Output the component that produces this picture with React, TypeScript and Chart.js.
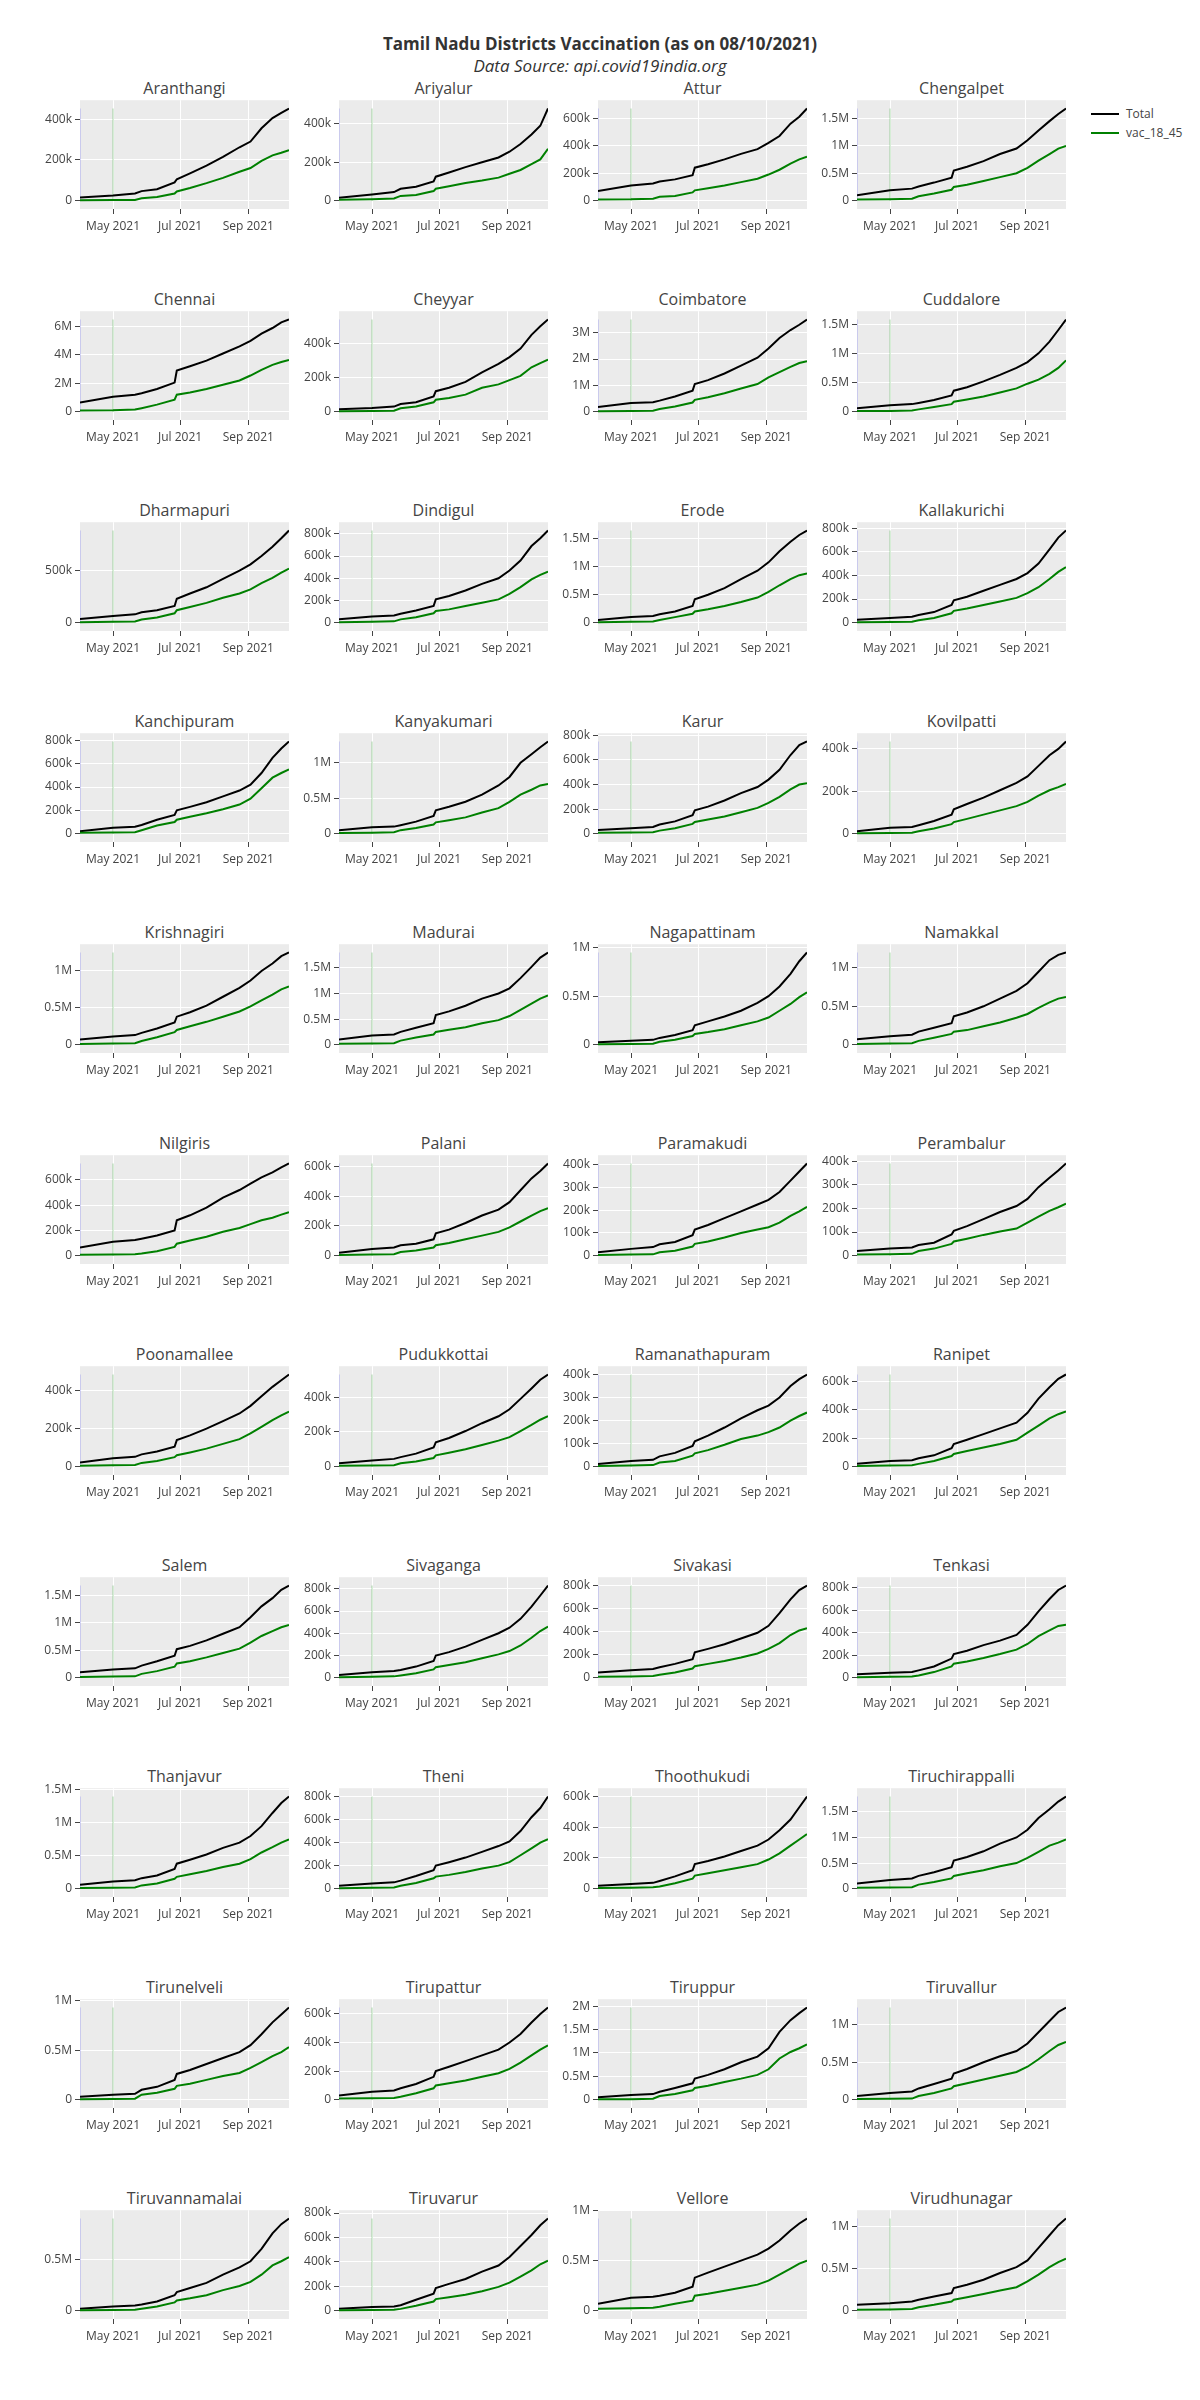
import React, { useEffect, useRef } from 'react';
import { Chart, registerables } from 'chart.js';

Chart.register(...registerables);

// ---------------- data ----------------
const mainTitle = 'Tamil Nadu Districts Vaccination (as on 08/10/2021)';
const subTitle = 'Data Source: api.covid19india.org';

const seriesNames = ['Total', 'vac_18_45'];
const seriesColors = ['black', 'green'];

const districts = [
  'Aranthangi', 'Ariyalur', 'Attur', 'Chengalpet',
  'Chennai', 'Cheyyar', 'Coimbatore', 'Cuddalore',
  'Dharmapuri', 'Dindigul', 'Erode', 'Kallakurichi',
  'Kanchipuram', 'Kanyakumari', 'Karur', 'Kovilpatti',
  'Krishnagiri', 'Madurai', 'Nagapattinam', 'Namakkal',
  'Nilgiris', 'Palani', 'Paramakudi', 'Perambalur',
  'Poonamallee', 'Pudukkottai', 'Ramanathapuram', 'Ranipet',
  'Salem', 'Sivaganga', 'Sivakasi', 'Tenkasi',
  'Thanjavur', 'Theni', 'Thoothukudi', 'Tiruchirappalli',
  'Tirunelveli', 'Tirupattur', 'Tiruppur', 'Tiruvallur',
  'Tiruvannamalai', 'Tiruvarur', 'Vellore', 'Virudhunagar',
];

// days since 2021-04-01
const days = [0, 30, 50, 56, 70, 86, 88, 100, 115, 130, 145, 155, 165, 175, 183, 190];
const xMin = 0;
const xMax = 190;
const xTickDays = [30, 91, 153];
const xTickLabels = ['May 2021', 'Jul 2021', 'Sep 2021'];
// vertical marker lines: 2021-04-01 and 2021-05-01
const markerDays = [0, 30];
const markerColors = ['rgba(110,110,240,0.35)', 'rgba(0,140,0,0.16)'];

// cumulative doses, thousands
const totalK = [
  [16, 25, 35, 47, 56, 90, 105, 134, 172, 215, 262, 290, 355, 405, 430, 452],
  [15, 32, 45, 62, 73, 100, 125, 147, 175, 200, 225, 255, 295, 345, 390, 480],
  [70, 110, 125, 140, 155, 185, 240, 265, 300, 340, 375, 420, 470, 560, 610, 670],
  [100, 190, 220, 260, 330, 420, 550, 620, 720, 850, 950, 1100, 1280, 1450, 1580, 1680],
  [650, 1050, 1200, 1300, 1600, 2050, 2900, 3200, 3600, 4100, 4600, 5000, 5500, 5900, 6300, 6500],
  [15, 22, 30, 45, 55, 90, 120, 140, 175, 230, 280, 320, 370, 450, 500, 540],
  [180, 330, 360, 420, 580, 800, 1050, 1200, 1450, 1750, 2050, 2400, 2800, 3100, 3300, 3500],
  [60, 110, 130, 150, 200, 280, 360, 420, 520, 630, 750, 850, 1000, 1200, 1400, 1580],
  [35, 65, 80, 100, 120, 160, 230, 280, 340, 420, 500, 560, 640, 730, 810, 885],
  [30, 55, 65, 80, 110, 150, 210, 240, 290, 350, 400, 470, 560, 690, 760, 830],
  [50, 100, 120, 150, 200, 300, 420, 500, 620, 780, 930, 1080, 1280, 1450, 1570, 1650],
  [25, 40, 50, 65, 90, 150, 190, 220, 270, 320, 370, 420, 500, 620, 720, 780],
  [20, 50, 60, 75, 120, 160, 200, 230, 270, 320, 370, 420, 520, 650, 730, 790],
  [50, 90, 100, 120, 170, 250, 330, 380, 450, 550, 680, 800, 1000, 1120, 1220, 1300],
  [30, 45, 55, 75, 100, 150, 190, 220, 270, 330, 380, 440, 520, 640, 720, 750],
  [12, 28, 32, 40, 60, 90, 115, 140, 170, 205, 240, 270, 320, 370, 400, 435],
  [70, 110, 130, 160, 220, 300, 380, 440, 530, 650, 770, 870, 1000, 1100, 1200, 1250],
  [100, 180, 200, 250, 330, 420, 580, 650, 760, 900, 1000, 1100, 1300, 1520, 1700, 1800],
  [25, 40, 50, 70, 100, 150, 200, 240, 290, 350, 430, 500, 600, 730, 860, 950],
  [70, 110, 130, 170, 220, 280, 370, 420, 500, 600, 700, 800, 950, 1100, 1170, 1200],
  [65, 110, 125, 135, 160, 200, 280, 320, 380, 460, 520, 570, 620, 660, 700, 730],
  [20, 45, 55, 70, 80, 110, 150, 175, 220, 270, 310, 360, 440, 520, 570, 620],
  [15, 30, 38, 50, 60, 90, 115, 135, 165, 195, 225, 245, 280, 330, 370, 405],
  [20, 30, 35, 45, 55, 90, 105, 125, 155, 185, 210, 240, 290, 330, 360, 390],
  [22, 45, 52, 65, 80, 105, 140, 165, 200, 240, 280, 320, 370, 420, 455, 485],
  [20, 35, 45, 55, 75, 110, 140, 165, 205, 250, 290, 330, 390, 450, 500, 530],
  [12, 25, 30, 45, 60, 90, 110, 135, 170, 210, 245, 265, 300, 350, 380, 400],
  [20, 40, 45, 60, 80, 130, 160, 190, 230, 270, 310, 380, 480, 560, 620, 650],
  [100, 150, 170, 220, 300, 400, 520, 580, 680, 800, 920, 1100, 1300, 1450, 1600, 1680],
  [25, 50, 60, 70, 100, 150, 200, 230, 280, 340, 400, 450, 530, 640, 740, 830],
  [45, 65, 75, 90, 120, 160, 220, 250, 290, 340, 390, 450, 560, 680, 760, 800],
  [30, 45, 50, 65, 100, 170, 210, 240, 290, 330, 380, 470, 590, 700, 780, 820],
  [60, 110, 130, 160, 200, 300, 380, 440, 520, 620, 700, 800, 950, 1150, 1300, 1400],
  [25, 45, 55, 70, 110, 160, 200, 230, 270, 320, 370, 410, 500, 620, 700, 800],
  [20, 30, 38, 50, 80, 120, 160, 180, 210, 245, 280, 320, 380, 450, 530, 600],
  [100, 170, 200, 250, 320, 420, 550, 620, 730, 880, 1000, 1150, 1380, 1550, 1700, 1800],
  [30, 50, 60, 100, 130, 200, 260, 300, 360, 420, 480, 550, 660, 780, 860, 930],
  [30, 55, 65, 80, 110, 160, 200, 230, 270, 310, 350, 400, 460, 540, 600, 645],
  [50, 100, 120, 170, 250, 350, 450, 530, 650, 800, 920, 1100, 1450, 1700, 1850, 1970],
  [50, 90, 110, 150, 210, 280, 350, 410, 500, 580, 650, 750, 900, 1050, 1170, 1230],
  [20, 40, 50, 60, 90, 150, 180, 220, 270, 350, 420, 480, 600, 750, 840, 895],
  [15, 30, 35, 45, 90, 140, 185, 220, 260, 320, 370, 440, 530, 620, 700, 755],
  [70, 130, 140, 150, 180, 240, 330, 380, 440, 500, 560, 620, 700, 800, 870, 920],
  [70, 90, 110, 130, 170, 210, 270, 310, 370, 450, 520, 600, 750, 900, 1020, 1100],
];

const vac18to45K = [
  [2, 3, 4, 12, 18, 35, 45, 62, 86, 112, 142, 160, 195, 222, 235, 248],
  [5, 8, 12, 25, 30, 50, 62, 75, 92, 105, 120, 140, 160, 190, 215, 270],
  [8, 10, 15, 28, 35, 60, 75, 90, 110, 135, 160, 190, 225, 270, 300, 320],
  [20, 25, 35, 80, 130, 200, 250, 290, 360, 430, 500, 600, 730, 850, 950, 1000],
  [80, 100, 150, 250, 500, 850, 1200, 1350, 1600, 1900, 2200, 2550, 2950, 3300, 3500, 3650],
  [3, 4, 6, 20, 30, 55, 70, 80, 100, 140, 160, 185, 210, 260, 285, 305],
  [20, 30, 40, 100, 200, 350, 450, 550, 700, 880, 1050, 1300, 1500, 1700, 1850, 1920],
  [10, 12, 20, 40, 80, 130, 170, 210, 260, 330, 400, 480, 550, 650, 750, 880],
  [5, 8, 12, 30, 50, 90, 120, 150, 190, 240, 280, 320, 380, 430, 480, 520],
  [5, 8, 12, 30, 50, 85, 105, 120, 150, 180, 210, 260, 320, 390, 430, 460],
  [10, 15, 20, 50, 100, 160, 200, 240, 300, 370, 450, 550, 670, 780, 850, 880],
  [3, 5, 8, 20, 40, 80, 100, 120, 150, 180, 210, 250, 300, 370, 430, 470],
  [8, 10, 12, 30, 70, 100, 120, 145, 175, 210, 250, 300, 390, 480, 520, 550],
  [10, 15, 20, 50, 80, 130, 160, 190, 230, 300, 360, 450, 550, 620, 680, 700],
  [8, 10, 12, 25, 45, 80, 95, 115, 140, 175, 210, 250, 300, 360, 400, 410],
  [2, 3, 5, 12, 25, 45, 55, 70, 90, 110, 130, 150, 180, 205, 220, 235],
  [10, 15, 20, 50, 100, 170, 200, 250, 310, 380, 450, 520, 600, 680, 750, 790],
  [20, 25, 30, 80, 140, 200, 250, 290, 340, 420, 480, 560, 680, 800, 900, 960],
  [5, 8, 10, 30, 50, 90, 110, 130, 160, 200, 240, 280, 350, 420, 490, 540],
  [10, 15, 20, 50, 90, 140, 170, 190, 240, 290, 350, 400, 480, 550, 600, 620],
  [8, 10, 12, 18, 35, 70, 95, 120, 150, 190, 220, 250, 280, 300, 325, 345],
  [5, 8, 10, 25, 35, 55, 70, 85, 110, 135, 160, 190, 230, 270, 300, 320],
  [3, 5, 6, 15, 22, 40, 52, 62, 80, 100, 115, 125, 145, 175, 195, 215],
  [5, 6, 8, 20, 30, 50, 60, 72, 88, 102, 115, 140, 165, 190, 205, 220],
  [5, 7, 9, 20, 30, 50, 60, 75, 95, 120, 145, 175, 210, 245, 270, 290],
  [5, 7, 9, 20, 30, 50, 65, 80, 100, 125, 150, 170, 205, 240, 270, 290],
  [3, 5, 7, 18, 25, 48, 58, 72, 95, 120, 135, 150, 170, 200, 220, 235],
  [5, 8, 10, 20, 40, 75, 90, 110, 135, 160, 190, 240, 290, 340, 370, 390],
  [15, 20, 25, 70, 120, 200, 260, 300, 370, 450, 530, 640, 760, 850, 920, 960],
  [5, 8, 12, 20, 40, 75, 95, 115, 140, 175, 210, 240, 290, 360, 420, 460],
  [8, 10, 14, 25, 45, 80, 100, 120, 145, 175, 210, 250, 300, 370, 410, 430],
  [5, 8, 10, 20, 50, 100, 125, 145, 175, 210, 250, 300, 370, 420, 460, 470],
  [10, 15, 20, 50, 80, 150, 180, 220, 270, 330, 380, 450, 550, 630, 700, 750],
  [5, 8, 10, 25, 50, 90, 105, 120, 145, 175, 200, 230, 290, 350, 400, 430],
  [5, 7, 9, 15, 35, 65, 85, 100, 120, 140, 160, 190, 230, 280, 320, 355],
  [20, 25, 30, 80, 130, 200, 250, 300, 360, 440, 500, 600, 720, 840, 900, 960],
  [5, 8, 10, 50, 70, 110, 140, 160, 200, 240, 270, 320, 380, 440, 480, 530],
  [8, 10, 12, 20, 45, 80, 100, 115, 135, 160, 185, 215, 260, 310, 350, 380],
  [10, 12, 20, 80, 120, 200, 250, 300, 380, 450, 530, 650, 880, 1020, 1100, 1180],
  [10, 12, 15, 50, 90, 150, 180, 220, 270, 320, 370, 440, 540, 650, 730, 770],
  [5, 7, 10, 20, 40, 80, 100, 120, 150, 200, 240, 280, 350, 440, 480, 520],
  [3, 5, 8, 15, 40, 75, 95, 110, 130, 160, 195, 230, 280, 330, 380, 410],
  [20, 25, 30, 40, 70, 100, 150, 170, 200, 230, 260, 300, 360, 420, 470, 500],
  [10, 15, 20, 40, 70, 110, 130, 160, 200, 240, 280, 350, 430, 520, 580, 620],
];

// y tick spacing (thousands) and whether labels use "M"
const yTickStepK = [
  200, 200, 200, 500,
  2000, 200, 1000, 500,
  500, 200, 500, 200,
  200, 500, 200, 200,
  500, 500, 500, 500,
  200, 200, 100, 100,
  200, 200, 100, 200,
  500, 200, 200, 200,
  500, 200, 200, 500,
  500, 200, 500, 500,
  500, 200, 500, 500,
];
const yTickInM = [
  false, false, false, true,
  true, false, true, true,
  false, false, true, false,
  false, true, false, false,
  true, true, true, true,
  false, false, false, false,
  false, false, false, false,
  true, false, false, false,
  true, false, false, true,
  true, false, true, true,
  true, false, true, true,
];

// ---------------- layout ----------------
const FONT = '"Open Sans", verdana, arial, sans-serif';
const COL_LEFT = [80, 339, 598, 857];
const PLOT_W = 209;
const PLOT_H = 109;
const ROW_TOP0 = 100;
const ROW_PITCH = 211;
const Y_AXIS_W = 62;
const X_AXIS_H = 36;
const PAD_TOP = 10;
const PAD_RIGHT = 14;

Chart.defaults.font.family = FONT;

const bgPlugin = {
  id: 'plotBg',
  beforeDraw(chart: any) {
    const { ctx, chartArea: a } = chart;
    ctx.save();
    ctx.fillStyle = '#ebebeb';
    ctx.fillRect(a.left, a.top, a.right - a.left, a.bottom - a.top);
    ctx.restore();
  },
};

function fmtY(v: number, inM: boolean): string {
  if (Math.abs(v) < 1e-6) return '0';
  if (inM) return `${Math.round((v / 1e6) * 100) / 100}M`;
  return `${Math.round(v / 1e3)}k`;
}

function Subplot({ idx }: { idx: number }) {
  const ref = useRef<HTMLCanvasElement>(null);
  const col = idx % 4;
  const row = Math.floor(idx / 4);
  const plotLeft = COL_LEFT[col];
  const plotTop = ROW_TOP0 + row * ROW_PITCH;
  const cw = Y_AXIS_W + PLOT_W + PAD_RIGHT;
  const ch = PAD_TOP + PLOT_H + X_AXIS_H;

  useEffect(() => {
    const total = totalK[idx].map((v) => v * 1000);
    const vac = vac18to45K[idx].map((v) => v * 1000);
    const maxV = Math.max(...total, ...vac);
    const pad = maxV * 0.09;
    const step = yTickStepK[idx] * 1000;
    const inM = yTickInM[idx];
    const gridCommon = {
      color: '#ffffff',
      lineWidth: 1,
      drawTicks: true,
      tickLength: 5,
      tickColor: '#444',
      tickWidth: 1,
    };
    const chart = new Chart(ref.current as HTMLCanvasElement, {
      type: 'line',
      data: {
        datasets: [
          {
            label: seriesNames[1],
            data: days.map((d, i) => ({ x: d, y: vac[i] })),
            borderColor: seriesColors[1],
            borderWidth: 2,
            pointRadius: 0,
            tension: 0,
            order: 1,
          },
          {
            label: seriesNames[0],
            data: days.map((d, i) => ({ x: d, y: total[i] })),
            borderColor: seriesColors[0],
            borderWidth: 2,
            pointRadius: 0,
            tension: 0,
            order: 2,
          },
          ...markerDays.map((d, k) => ({
            label: `marker${k}`,
            data: [
              { x: d, y: 0 },
              { x: d, y: maxV },
            ],
            borderColor: markerColors[k],
            borderWidth: k === 0 ? 1.5 : 2,
            pointRadius: 0,
            order: 3 + k,
          })),
        ],
      },
      options: {
        responsive: false,
        maintainAspectRatio: false,
        animation: false,
        events: [],
        layout: { padding: { top: PAD_TOP, right: PAD_RIGHT, left: 0, bottom: 0 } },
        plugins: {
          legend: { display: false },
          tooltip: { enabled: false },
          title: { display: false },
        },
        scales: {
          x: {
            type: 'linear',
            min: xMin,
            max: xMax,
            afterFit: (s: any) => {
              s.height = X_AXIS_H;
            },
            afterBuildTicks: (s: any) => {
              s.ticks = xTickDays.map((v) => ({ value: v }));
            },
            ticks: {
              autoSkip: false,
              maxRotation: 0,
              padding: 5,
              color: '#444',
              font: { size: 12, family: FONT },
              callback: (v: any) => {
                const i = xTickDays.indexOf(Number(v));
                return i >= 0 ? xTickLabels[i] : '';
              },
            },
            grid: gridCommon,
            border: { display: false },
          },
          y: {
            type: 'linear',
            min: -pad,
            max: maxV + pad,
            afterFit: (s: any) => {
              s.width = Y_AXIS_W;
            },
            afterBuildTicks: (s: any) => {
              const t: { value: number }[] = [];
              for (let v = 0; v <= s.max + 1e-6; v += step) t.push({ value: v });
              s.ticks = t;
            },
            ticks: {
              autoSkip: false,
              padding: 3,
              color: '#444',
              font: { size: 12, family: FONT },
              callback: (v: any) => fmtY(Number(v), inM),
            },
            grid: gridCommon,
            border: { display: false },
          },
        },
      },
      plugins: [bgPlugin],
    } as any);
    return () => chart.destroy();
  }, [idx]);

  return (
    <>
      <div
        style={{
          position: 'absolute',
          left: plotLeft,
          top: plotTop - 22,
          width: PLOT_W,
          textAlign: 'center',
          fontSize: 16,
          lineHeight: '20px',
          color: '#444',
          whiteSpace: 'nowrap',
        }}
      >
        {districts[idx]}
      </div>
      <canvas
        ref={ref}
        width={cw}
        height={ch}
        style={{
          position: 'absolute',
          left: plotLeft - Y_AXIS_W,
          top: plotTop - PAD_TOP,
          width: cw,
          height: ch,
        }}
      />
    </>
  );
}

export default function App() {
  return (
    <div
      style={{
        position: 'absolute',
        left: 0,
        top: 0,
        width: 1200,
        height: 2400,
        background: '#ffffff',
        fontFamily: FONT,
        overflow: 'hidden',
      }}
    >
      <div
        style={{
          position: 'absolute',
          left: 0,
          top: 32,
          width: 1200,
          textAlign: 'center',
          fontSize: 17,
          lineHeight: '24px',
          fontWeight: 'bold',
          color: '#333',
        }}
      >
        {mainTitle}
      </div>
      <div
        style={{
          position: 'absolute',
          left: 0,
          top: 54,
          width: 1200,
          textAlign: 'center',
          fontSize: 17,
          lineHeight: '24px',
          fontStyle: 'italic',
          color: '#333',
        }}
      >
        {subTitle}
      </div>
      {seriesNames.map((name, i) => (
        <React.Fragment key={name}>
          <div
            style={{
              position: 'absolute',
              left: 1091,
              top: 113 + i * 19,
              width: 28,
              height: 2,
              background: seriesColors[i],
            }}
          />
          <div
            style={{
              position: 'absolute',
              left: 1126,
              top: 105 + i * 19,
              fontSize: 12,
              lineHeight: '18px',
              color: '#444',
              whiteSpace: 'nowrap',
            }}
          >
            {name}
          </div>
        </React.Fragment>
      ))}
      {districts.map((_, i) => (
        <Subplot key={i} idx={i} />
      ))}
    </div>
  );
}
